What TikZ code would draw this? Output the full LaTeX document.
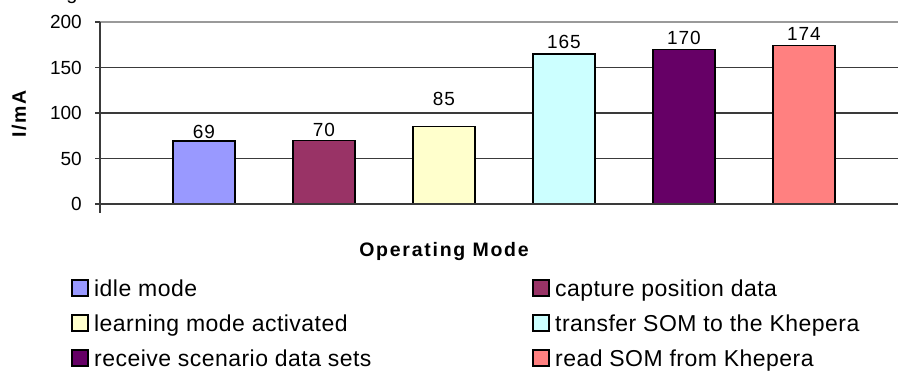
\documentclass[tikz,border=0pt]{standalone}
\usepackage{fontspec}
\setmainfont{Liberation Sans}
\definecolor{cA}{HTML}{9999FF}
\definecolor{cB}{HTML}{993366}
\definecolor{cC}{HTML}{FFFFCC}
\definecolor{cD}{HTML}{CCFFFF}
\definecolor{cE}{HTML}{660066}
\definecolor{cF}{HTML}{FF8080}
\definecolor{gridc}{HTML}{3A3A3A}
\definecolor{topc}{HTML}{9A9A9A}
\tikzset{
  gridline/.style={draw=gridc, line width=1.1pt},
  axisline/.style={draw=gridc, line width=1.4pt},
  barbox/.style={draw=black, line width=1.6pt},
  ticklab/.style={anchor=east, inner sep=0pt, font=\fontsize{19}{19}\selectfont},
  datalab/.style={anchor=base, inner sep=0pt, font=\fontsize{19}{19}\selectfont\addfontfeature{LetterSpace=5}},
  legsq/.style={draw=black, line width=1.4pt},
  legtext/.style={anchor=base west, inner sep=0pt, font=\fontsize{23}{23}\selectfont\addfontfeature{LetterSpace=2}},
  titlelab/.style={inner sep=0pt, font=\fontsize{19.5}{19.5}\selectfont\bfseries\addfontfeature{LetterSpace=9}}
}
\begin{document}
\begin{tikzpicture}[x=1pt,y=-1pt]
\useasboundingbox (0,0) rectangle (898,376);
% fragment of cropped caption above
\node[anchor=base, inner sep=0pt, font=\fontsize{20}{20}\selectfont] (frag) at (72,-1) {g};
% gridlines
\foreach \v in {50,100,150}{
  \draw[gridline] (95,{204-0.91*\v}) -- (898,{204-0.91*\v});
}
\draw[draw=topc, line width=2pt] (100,22) -- (898,22);
\draw[gridc, line width=1.1pt] (95,22) -- (100,22);
% tick labels
\foreach \v in {0,50,100,150,200}{
  \node[ticklab] (t\v) at (82,{204-0.91*\v}) {\v};
}
% bars
\foreach \c/\v/\col/\n/\ly in {204/69/cA/a/138, 324/70/cB/b/136, 444/85/cC/c/105, 564/165/cD/d/48, 684/170/cE/e/44, 804/174/cF/f/40}{
  \draw[barbox, fill=\col] ({\c-31},204) rectangle ({\c+31},{204-0.91*\v});
  \node[datalab] (l\n) at (\c,\ly) {\v};
}
% axes
\draw[axisline] (95,204) -- (898,204);
\draw[axisline] (100,22) -- (100,213);
% axis titles
\node[titlelab, rotate=90] (ytitle) at (19,114) {I/mA};
\node[titlelab, anchor=base] (xtitle) at (444,256) {Operating Mode};
% legend
\foreach \x/\y/\col/\txt/\n in {72/296/cA/idle mode/1, 533/296/cB/capture position data/2, 72/331/cC/learning mode activated/3, 533/331/cD/transfer SOM to the Khepera/4, 72/366/cE/receive scenario data sets/5, 533/366/cF/read SOM from Khepera/6}{
  \draw[legsq, fill=\col] (\x,{\y-16}) rectangle ({\x+16},\y);
  \node[legtext] (g\n) at ({\x+22},\y) {\txt};
}
\end{tikzpicture}
\end{document}
